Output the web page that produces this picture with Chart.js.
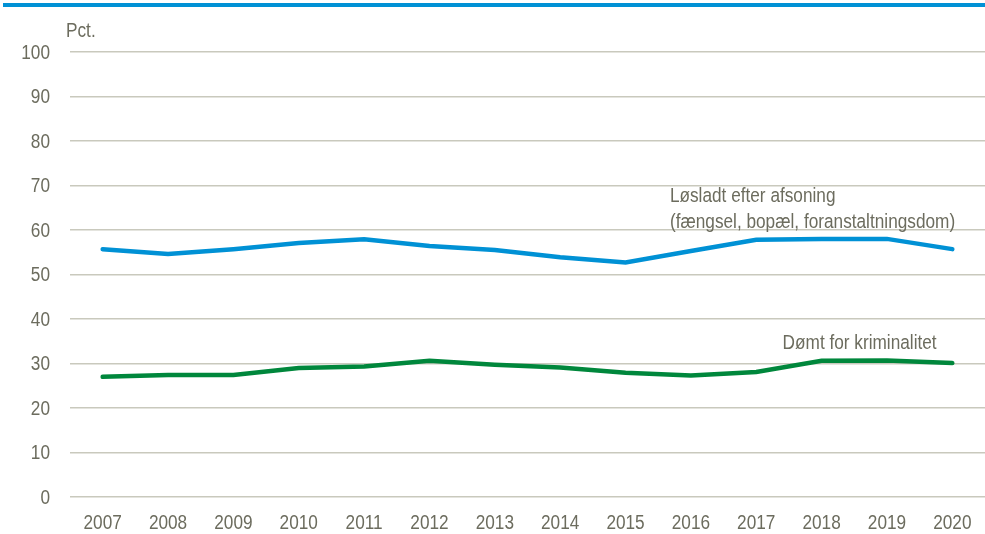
<!DOCTYPE html>
<html>
<head>
<meta charset="utf-8">
<script src="https://cdn.jsdelivr.net/npm/chart.js@4"></script>
<style>
  html, body { margin: 0; padding: 0; background: #fff; }
  #wrap { width: 985px; height: 534px; position: relative; }
</style>
</head>
<body>
<div id="wrap"><canvas id="myChart"></canvas></div>
<script>
const years = ['2007', '2008', '2009', '2010', '2011', '2012', '2013', '2014', '2015', '2016', '2017', '2018', '2019', '2020'];
const loesladt = [55.7, 54.6, 55.7, 57.1, 57.9, 56.4, 55.5, 53.9, 52.7, 55.3, 57.8, 58.0, 58.0, 55.7];
const doemt = [27.0, 27.4, 27.4, 29.0, 29.3, 30.6, 29.7, 29.1, 27.9, 27.3, 28.1, 30.6, 30.7, 30.1];
const yTicks = [0, 10, 20, 30, 40, 50, 60, 70, 80, 90, 100];

const font = "'Liberation Sans', Arial, sans-serif";
const textColor = '#6c6c5e';

// narrow look: squeeze a normal sans horizontally
function narrowText(c, text, x, y, align) {
    c.save();
    c.translate(x, y);
    c.scale(0.84, 1);
    c.textAlign = align;
    c.fillText(text, 0, 0);
    c.restore();
}

// blue rule at top, tick labels, unit label and line labels
const extras = {
    id: 'extras',
    afterDraw(chart) {
        const c = chart.ctx;
        const x = chart.scales.x;
        const y = chart.scales.y;
        c.save();
        c.fillStyle = '#0091d5';
        c.fillRect(3, 3, 982, 4);
        c.fillStyle = textColor;
        c.font = '20.5px ' + font;
        c.textBaseline = 'middle';

        y.ticks.forEach(t => narrowText(c, String(t.value), 50, y.getPixelForValue(t.value) + 1, 'right'));
        years.forEach((lab, i) => narrowText(c, lab, x.getPixelForTick(i), 523, 'center'));

        narrowText(c, 'Pct.', 66, 31, 'left');
        narrowText(c, 'Løsladt efter afsoning', x.getPixelForValue(9) - 21, y.getPixelForValue(67.6), 'left');
        narrowText(c, '(fængsel, bopæl, foranstaltningsdom)', x.getPixelForValue(9) - 21, y.getPixelForValue(61.8), 'left');
        narrowText(c, 'Dømt for kriminalitet', x.getPixelForValue(11) - 39, y.getPixelForValue(34.6), 'left');
        c.restore();
    }
};

const ctx = document.getElementById('myChart');

new Chart(ctx, {
    type: 'line',
    data: {
        labels: years,
        datasets: [{
            label: 'Løsladt efter afsoning',
            data: loesladt,
            borderColor: '#0091d5',
            borderWidth: 4.5,
            pointRadius: 0,
            borderCapStyle: 'round',
            tension: 0
        },
        {
            label: 'Dømt for kriminalitet',
            data: doemt,
            borderColor: '#00873c',
            borderWidth: 4.5,
            pointRadius: 0,
            borderCapStyle: 'round',
            tension: 0
        }],
    },
    options: {
        responsive: true,
        maintainAspectRatio: false,
        animation: false,
        layout: {
            padding: { top: 52, right: -5, left: 0, bottom: 0 }
        },
        scales: {
            x: {
                offset: true,
                grid: { display: false },
                border: { display: false },
                ticks: { display: false },
                afterFit(scale) { scale.height = 37; }
            },
            y: {
                min: 0,
                max: 100,
                afterBuildTicks(scale) { scale.ticks = yTicks.map(v => ({ value: v })); },
                grid: {
                    color: '#c9c9bd',
                    lineWidth: 1.5,
                    drawTicks: false
                },
                border: { display: false },
                ticks: { display: false },
                afterFit(scale) { scale.width = 70; }
            }
        },
        plugins: {
            legend: { display: false },
            tooltip: { enabled: false }
        }
    },
    plugins: [extras]
});
</script>
</body>
</html>
